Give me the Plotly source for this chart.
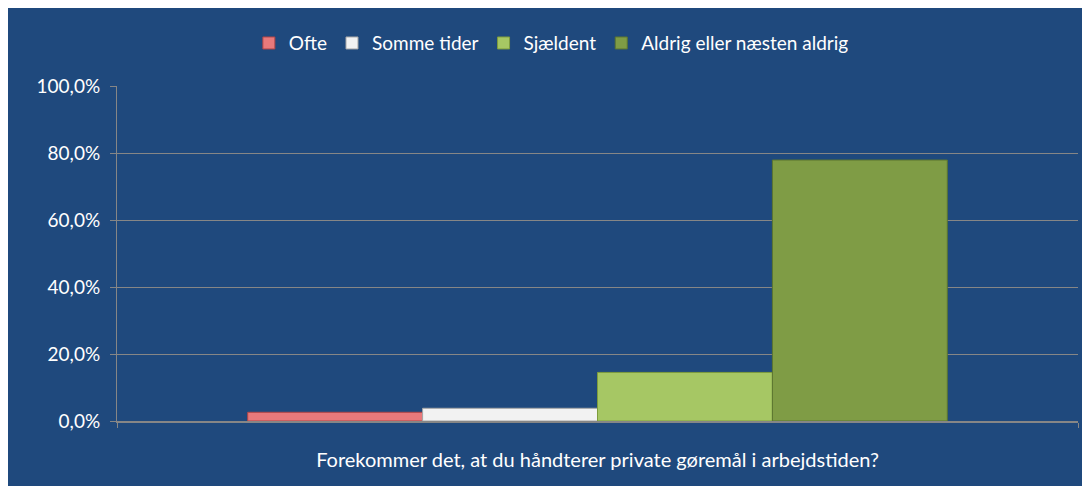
import plotly.graph_objects as go

category = ["Forekommer det, at du håndterer private gøremål i arbejdstiden?"]
series_names = ["Ofte", "Somme tider", "Sjældent", "Aldrig eller næsten aldrig"]
series_values = [2.6, 3.8, 14.5, 77.9]
series_colors = ["#E8797B", "#F2F2F2", "#A6C764", "#7F9C45"]
edge_colors = ["#B04547", "#A6A6A6", "#7E9C3C", "#5B7530"]
y_ticks = [0, 20, 40, 60, 80, 100]
y_tick_labels = ["0,0%", "20,0%", "40,0%", "60,0%", "80,0%", "100,0%"]

BG = "#1F497D"
GRID = "#868686"
FONT = "Lato"

fig = go.Figure()
for name, val, col, edge in zip(series_names, series_values, series_colors, edge_colors):
    fig.add_trace(go.Bar(
        x=category, y=[val], name=name,
        marker=dict(color=col, line=dict(color=edge, width=1)),
    ))

fig.update_layout(
    width=1082, height=478,
    paper_bgcolor=BG,
    plot_bgcolor=BG,
    barmode="group",
    bargap=0.272,
    bargroupgap=0,
    margin=dict(l=109, r=12, t=78, b=65),
    font=dict(family=FONT, color="white", size=19),
    legend=dict(
        orientation="h", x=0.452, xanchor="center", y=1.128, yanchor="middle",
        font=dict(family=FONT, size=19, color="white"),
        bgcolor="rgba(0,0,0,0)", traceorder="normal",
    ),
)

fig.update_xaxes(
    showline=True, linecolor=GRID, linewidth=2,
    ticks="outside", tickson="boundaries", tickcolor=GRID, ticklen=5,
    showgrid=False, zeroline=False, ticklabelstandoff=20,
    tickfont=dict(family=FONT, size=20, color="white"),
)
fig.update_yaxes(
    range=[0, 100], tickvals=y_ticks, ticktext=y_tick_labels,
    showline=True, linecolor=GRID, linewidth=1,
    ticks="outside", tickcolor=GRID, ticklen=6,
    showgrid=True, gridcolor=GRID, gridwidth=1,
    zeroline=False, ticklabelstandoff=6,
    tickfont=dict(family=FONT, size=19, color="white"),
)

fig.write_html("out.html")
